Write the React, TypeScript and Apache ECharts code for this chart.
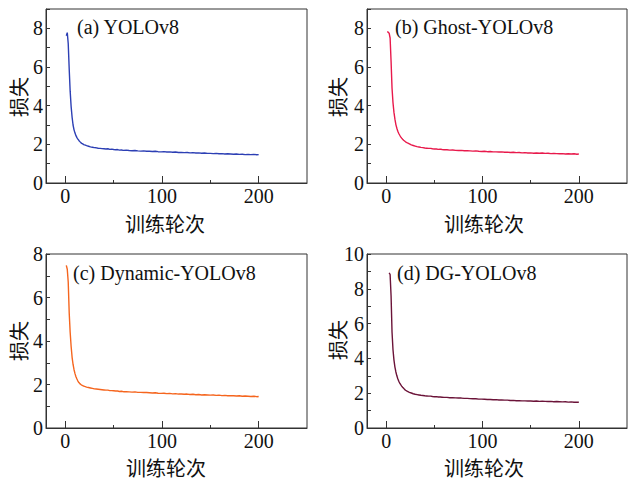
import React, { useEffect, useRef } from "react";
import * as echarts from "echarts";

// Training epochs (x values)
const epochs = [
  1, 2, 3, 4, 5, 6, 7, 8, 9, 10, 11, 12, 13, 14, 15, 16, 17, 18, 19, 20,
  22, 24, 26, 28, 30, 32, 34, 36, 38, 40, 42, 44, 46, 48, 50, 52, 54, 56, 58, 60,
  63, 66, 69, 72, 75, 78, 81, 84, 87, 90, 93, 96, 99, 102, 105, 108, 111, 114, 117, 120,
  123, 126, 129, 132, 135, 138, 141, 144, 147, 150, 153, 156, 159, 162, 165, 168, 171, 174, 177, 180,
  183, 186, 189, 192, 195, 198, 200,
];

const lossYOLOv8 = [
  7.62, 7.78, 7.2, 5.9, 4.75, 3.95, 3.4, 3.0, 2.75, 2.58, 2.45, 2.35, 2.27, 2.2, 2.14, 2.09, 2.05, 2.02, 1.99, 1.97,
  1.93, 1.9, 1.87, 1.85, 1.83, 1.82, 1.8, 1.79, 1.78, 1.77, 1.76, 1.77, 1.74, 1.75, 1.73, 1.72, 1.73, 1.7, 1.71, 1.69,
  1.7, 1.68, 1.67, 1.68, 1.66, 1.65, 1.66, 1.64, 1.64, 1.63, 1.64, 1.62, 1.61, 1.62, 1.6, 1.61, 1.59, 1.6, 1.58, 1.58,
  1.57, 1.58, 1.56, 1.57, 1.55, 1.56, 1.54, 1.55, 1.53, 1.53, 1.52, 1.53, 1.51, 1.52, 1.5, 1.51, 1.5, 1.49, 1.5, 1.48,
  1.49, 1.47, 1.48, 1.47, 1.48, 1.46, 1.47,
];

const lossGhost = [
  7.83, 7.8, 7.75, 7.5, 6.3, 4.9, 4.15, 3.65, 3.3, 3.02, 2.83, 2.68, 2.56, 2.47, 2.39, 2.32, 2.26, 2.21, 2.17, 2.13,
  2.07, 2.02, 1.97, 1.94, 1.91, 1.88, 1.86, 1.84, 1.83, 1.81, 1.8, 1.79, 1.79, 1.77, 1.76, 1.76, 1.74, 1.75, 1.73, 1.72,
  1.72, 1.7, 1.71, 1.69, 1.68, 1.69, 1.67, 1.67, 1.66, 1.65, 1.66, 1.64, 1.63, 1.64, 1.62, 1.63, 1.61, 1.61, 1.6, 1.61,
  1.59, 1.59, 1.58, 1.59, 1.57, 1.58, 1.56, 1.57, 1.55, 1.56, 1.54, 1.55, 1.54, 1.55, 1.53, 1.54, 1.52, 1.53, 1.52, 1.51,
  1.52, 1.5, 1.51, 1.5, 1.51, 1.49, 1.5,
];

const lossDynamic = [
  7.48, 7.3, 6.7, 5.3, 4.4, 3.75, 3.25, 2.92, 2.68, 2.5, 2.36, 2.25, 2.16, 2.09, 2.04, 2.0, 1.97, 1.95, 1.93, 1.91,
  1.88, 1.86, 1.84, 1.82, 1.8, 1.79, 1.78, 1.77, 1.76, 1.75, 1.74, 1.74, 1.72, 1.72, 1.71, 1.7, 1.7, 1.68, 1.69, 1.67,
  1.67, 1.66, 1.65, 1.66, 1.64, 1.64, 1.63, 1.63, 1.62, 1.61, 1.62, 1.6, 1.59, 1.6, 1.58, 1.59, 1.57, 1.58, 1.56, 1.56,
  1.55, 1.56, 1.54, 1.55, 1.53, 1.54, 1.52, 1.53, 1.52, 1.51, 1.52, 1.5, 1.51, 1.49, 1.5, 1.48, 1.49, 1.48, 1.47, 1.48,
  1.46, 1.47, 1.46, 1.45, 1.46, 1.44, 1.45,
];

const lossDG = [
  null, null, 8.92, 8.82, 7.6, 5.5, 4.5, 3.9, 3.5, 3.22, 3.0, 2.83, 2.69, 2.58, 2.49, 2.41, 2.34, 2.28, 2.22, 2.17,
  2.1, 2.05, 2.01, 1.97, 1.94, 1.92, 1.9, 1.88, 1.87, 1.85, 1.84, 1.83, 1.83, 1.81, 1.8, 1.8, 1.78, 1.78, 1.77, 1.76,
  1.76, 1.74, 1.74, 1.73, 1.72, 1.72, 1.7, 1.7, 1.69, 1.68, 1.68, 1.66, 1.66, 1.65, 1.64, 1.64, 1.62, 1.63, 1.61, 1.61,
  1.6, 1.6, 1.58, 1.59, 1.57, 1.57, 1.56, 1.56, 1.55, 1.55, 1.54, 1.55, 1.53, 1.54, 1.53, 1.52, 1.53, 1.51, 1.52, 1.51,
  1.5, 1.51, 1.49, 1.5, 1.48, 1.49, 1.48,
];

const panelTitles = ["(a) YOLOv8", "(b) Ghost-YOLOv8", "(c) Dynamic-YOLOv8", "(d) DG-YOLOv8"];
const seriesValues = [lossYOLOv8, lossGhost, lossDynamic, lossDG];
const yMaxes = [9, 9, 8, 10];
const xMajorTicks = [0, 100, 200];
const xMinorTicks = [50, 150];
const xAxisTitle = "训练轮次";
const yAxisTitle = "损失";

const lineColors = ["#2c3fb4", "#e8194b", "#f5651e", "#6b1338"];
const grids = [
  { left: 46, top: 9, width: 261, height: 174 },
  { left: 367, top: 9, width: 260, height: 174 },
  { left: 46, top: 254, width: 261, height: 174 },
  { left: 367, top: 254, width: 260, height: 174 },
];
const titlePos = [
  [77, 27],
  [395, 27],
  [73, 273],
  [397, 273],
];
const xNamePos = [
  [165, 223],
  [484, 223],
  [166, 467],
  [484, 467],
];
const yNamePos = [
  [18, 97],
  [337, 97],
  [18, 341],
  [337, 340],
];

const SERIF = "'Liberation Serif', 'Times New Roman', serif";
const CJK = "'Noto Sans CJK SC', sans-serif";

export default function App() {
  const ref = useRef<HTMLDivElement>(null);
  useEffect(() => {
    if (!ref.current) return;
    const chart = echarts.init(ref.current, undefined, { renderer: "svg" });
    const xAxes: any[] = [];
    const yAxes: any[] = [];
    const series: any[] = [];
    const graphics: any[] = [];
    grids.forEach((g, i) => {
      xAxes.push({
        type: "value",
        gridIndex: i,
        position: "bottom",
        min: -20,
        max: 250,
        axisLine: { show: true, onZero: false, lineStyle: { color: "#333", width: 1 } },
        axisTick: { show: true, inside: true, length: 7, customValues: xMajorTicks, lineStyle: { color: "#333" } },
        axisLabel: { customValues: xMajorTicks, fontSize: 20, fontFamily: SERIF, color: "#111", margin: 3 },
        splitLine: { show: false },
      });
      xAxes.push({
        type: "value",
        gridIndex: i,
        position: "bottom",
        min: -20,
        max: 250,
        axisLine: { show: false },
        axisTick: { show: true, inside: true, length: 3, customValues: xMinorTicks, lineStyle: { color: "#333" } },
        axisLabel: { show: false },
        splitLine: { show: false },
      });
      yAxes.push({
        type: "value",
        gridIndex: i,
        min: 0,
        max: yMaxes[i],
        interval: 1,
        axisLine: { show: true, onZero: false, lineStyle: { color: "#333", width: 1 } },
        axisTick: { show: true, inside: true, length: 4, lineStyle: { color: "#333" } },
        axisLabel: {
          fontSize: 20,
          fontFamily: SERIF,
          color: "#111",
          margin: 3,
          formatter: (v: number) => (v % 2 === 0 ? String(v) : ""),
        },
        splitLine: { show: false },
      });
      series.push({
        type: "line",
        xAxisIndex: i * 2,
        yAxisIndex: i,
        showSymbol: false,
        symbol: "none",
        lineStyle: { color: lineColors[i], width: 1.4 },
        data: epochs.map((e, k) => [e, seriesValues[i][k]]),
      });
      graphics.push({
        type: "text",
        x: titlePos[i][0],
        y: titlePos[i][1],
        style: {
          text: panelTitles[i],
          font: `20px ${SERIF}`,
          fill: "#111",
          textAlign: "left",
          textVerticalAlign: "middle",
        },
      });
      graphics.push({
        type: "text",
        x: xNamePos[i][0],
        y: xNamePos[i][1],
        style: {
          text: xAxisTitle,
          font: `20px ${CJK}`,
          fill: "#111",
          textAlign: "center",
          textVerticalAlign: "middle",
        },
      });
      graphics.push({
        type: "text",
        x: yNamePos[i][0],
        y: yNamePos[i][1],
        rotation: Math.PI / 2,
        style: {
          text: yAxisTitle,
          font: `20px ${CJK}`,
          fill: "#111",
          textAlign: "center",
          textVerticalAlign: "middle",
        },
      });
    });
    chart.setOption({
      animation: false,
      backgroundColor: "#fff",
      grid: grids.map((g) => ({
        ...g,
        show: true,
        borderColor: "#333",
        borderWidth: 1,
        backgroundColor: "transparent",
        containLabel: false,
      })),
      xAxis: xAxes,
      yAxis: yAxes,
      series,
      graphic: graphics,
    });
    return () => chart.dispose();
  }, []);
  return (
    <div
      ref={ref}
      style={{ position: "fixed", left: 0, top: 0, width: 628, height: 483 }}
    />
  );
}
